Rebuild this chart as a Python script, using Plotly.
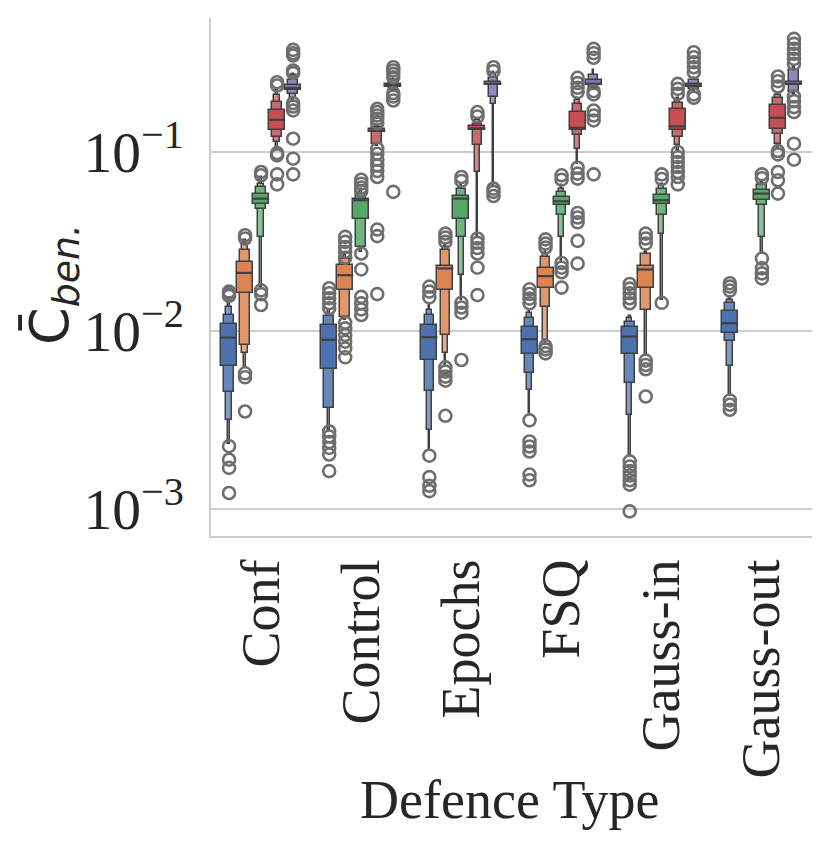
import plotly.graph_objects as go

# categories / hue levels
defences = ["Conf", "Control", "Epochs", "FSQ", "Gauss-in", "Gauss-out"]
hue_colors = ["#4C72B0", "#DD8452", "#55A868", "#C44E52", "#8172B3"]

# letter values, [hue][defence]
median = [
    [0.00914, 0.00887, 0.00918, 0.00895, 0.00925, 0.01099],
    [0.02104, 0.02042, 0.02228, 0.02018, 0.02198, None],
    [0.0548, 0.0537, 0.0548, 0.0530, 0.0537, 0.0585],
    [0.1517, 0.1316, 0.1356, 0.1368, 0.1393, 0.1556],
    [0.2280, 0.2371, 0.2410, 0.2410, 0.2360, 0.2410],
]
iqr = [
    [(0.00637, 0.01089), (0.00608, 0.01076), (0.00686, 0.01076), (0.00741, 0.01044), (0.00741, 0.01044), (0.00966, 0.01294)],
    [(0.01614, 0.02427), (0.01698, 0.02323), (0.01683, 0.02296), (0.01722, 0.02228), (0.01722, 0.02296), None],
    [(0.0514, 0.0580), (0.0419, 0.0548), (0.0419, 0.0565), (0.0504, 0.0560), (0.0509, 0.0573), (0.0537, 0.0615)],
    [(0.1321, 0.1726), (0.1288, 0.1345), (0.1321, 0.1393), (0.1321, 0.1675), (0.1321, 0.1746), (0.1349, 0.1824)],
    [(0.2213, 0.2360), (0.2328, 0.2410), (0.2360, 0.2466), (0.2360, 0.2518), (0.2312, 0.2410), (0.2360, 0.2483)],
]
level2 = [
    [(0.00450, 0.01224), (0.00368, 0.01208), (0.00456, 0.01224), (0.00577, 0.01172), (0.00507, 0.01122), (0.00879, 0.01422)],
    [(0.00829, 0.02818), (0.01194, 0.02532), (0.00944, 0.02818), (0.01359, 0.02588), (0.01301, 0.02679), None],
    [(0.0482, 0.0637), (0.0294, 0.0585), (0.0335, 0.0624), (0.0443, 0.0598), (0.0443, 0.0624), (0.0504, 0.0652)],
    [(0.1213, 0.1905), (0.1114, 0.1380), (0.1089, 0.1439), (0.1239, 0.1862), (0.1213, 0.1879), (0.1256, 0.2014)],
    [(0.2103, 0.2518), (0.2234, 0.2518), (0.2047, 0.2606), (0.2280, 0.2685), (0.2259, 0.2518), (0.2168, 0.2864)],
]
level3 = [
    [(0.00316, 0.01362), None, (0.00278, 0.01306), (0.00466, 0.01250), (0.00337, 0.01172), (0.00629, 0.01486)],
    [(0.00745, 0.0307), None, (0.00745, 0.0294), (0.00885, 0.02700), None, None],
    [(0.0335, 0.0665), None, (0.0204, 0.0637), (0.0335, 0.0624), (0.0349, 0.0643), (0.0335, 0.0665)],
    [(0.1137, 0.2075), None, (0.0773, 0.1503), (0.1044, 0.1945), (0.1089, 0.1945), (0.1114, 0.2075)],
    [(0.2014, 0.2685), None, (0.1862, 0.2742), None, None, None],
]
tail = [
    [(0.00230, 0.01517), (0.00278, 0.01306), (0.00215, 0.01393), (0.00345, 0.01306), (0.00197, 0.01208), (0.00428, 0.01535)],
    [(0.00614, 0.0321), (0.01145, 0.02643), (0.00641, 0.0301), (0.00829, 0.02760), (0.00729, 0.02760), None],
    [(0.0176, 0.0725), (0.0276, 0.0624), (0.0148, 0.0652), (0.0246, 0.0652), (0.0148, 0.0665), (0.0270, 0.0679)],
    [(0.1021, 0.2213), (0.1076, 0.1409), (0.0335, 0.1535), (0.0861, 0.2014), (0.1030, 0.2014), (0.1044, 0.2138)],
    [(0.1905, 0.2742), (0.2168, 0.2582), (0.0637, 0.2799), (0.2234, 0.2864), (0.2193, 0.2606), (0.2103, 0.2985)],
]
outliers = [
    [
        [0.01652, 0.01603, 0.01563, 0.00225, 0.00189, 0.00170, 0.00123],
        [0.01725, 0.01618, 0.01517, 0.01422, 0.01333, 0.00272, 0.00255, 0.00237, 0.00220, 0.00202, 0.00163],
        [0.01762, 0.01652, 0.01535, 0.00199, 0.00151, 0.00135, 0.00126],
        [0.01702, 0.01603, 0.01510, 0.01422, 0.00314, 0.00239, 0.00224, 0.00210, 0.00156, 0.00145],
        [0.01824, 0.01718, 0.01618, 0.01517, 0.01422, 0.00185, 0.00173, 0.00163, 0.00154, 0.00145, 0.00137, 0.00097],
        [0.01841, 0.01762, 0.01675, 0.00406, 0.00384, 0.00360],
    ],
    [
        [0.0342, 0.0328, 0.00576, 0.00547, 0.00352],
        [0.0335, 0.0314, 0.0294, 0.0276, 0.0256, 0.01106, 0.01028, 0.00944, 0.00866, 0.00794, 0.00708],
        [0.0349, 0.0332, 0.0314, 0.00622, 0.00589, 0.00552, 0.00524, 0.00333],
        [0.0324, 0.0307, 0.0292, 0.00818, 0.00784, 0.00745],
        [0.0349, 0.0328, 0.0307, 0.00678, 0.00641, 0.00607, 0.00427],
        [],
    ],
    [
        [0.0773, 0.0741, 0.0168, 0.0160, 0.0139],
        [0.0700, 0.0665, 0.0632, 0.0605, 0.0270, 0.0220, 0.01545, 0.01419, 0.01313, 0.01222],
        [0.0725, 0.0689, 0.01430, 0.01346, 0.01259, 0.00684],
        [0.0741, 0.0700, 0.0239, 0.0225, 0.0212, 0.0174],
        [0.0750, 0.0706, 0.0143],
        [0.0750, 0.0713, 0.0253, 0.0223, 0.0209, 0.0196],
    ],
    [
        [0.2462, 0.2360, 0.0987, 0.0958, 0.0750, 0.0659],
        [0.1746, 0.1675, 0.1603, 0.1535, 0.1452, 0.1044, 0.0979, 0.0906, 0.0842, 0.0783, 0.0725, 0.0368, 0.0338, 0.0160],
        [0.1675, 0.1582, 0.0328, 0.0310, 0.0290, 0.0270, 0.0225, 0.0158],
        [0.2606, 0.2432, 0.2291, 0.2168, 0.0817, 0.0757, 0.0710, 0.0456, 0.0430, 0.0404, 0.0318, 0.0237],
        [0.2410, 0.2259, 0.2118, 0.1000, 0.0937, 0.0879, 0.0824, 0.0773, 0.0725, 0.0659],
        [0.2649, 0.2495, 0.2328, 0.1013, 0.0970, 0.0773, 0.0695, 0.0585],
    ],
    [
        [0.3735, 0.3580, 0.3475, 0.2864, 0.2767, 0.1880, 0.1800, 0.1710, 0.1188, 0.0918, 0.0750],
        [0.2985, 0.2864, 0.2742, 0.2624, 0.2138, 0.2047, 0.1945, 0.0598],
        [0.2985, 0.2838, 0.0624, 0.0598, 0.0567],
        [0.3784, 0.3580, 0.3373, 0.2193, 0.2103, 0.1710, 0.1603, 0.1503, 0.0750],
        [0.3622, 0.3396, 0.3184, 0.2985, 0.2799, 0.2103, 0.2014],
        [0.4305, 0.4036, 0.3784, 0.3548, 0.3327, 0.3119, 0.2047, 0.1928, 0.1786, 0.1675, 0.1114, 0.0906],
    ],
]

SLOT = 0.16
EDGE = "#404040"
SERIF = "Liberation Serif"

# page has an 8px body margin, plot area sits at x 211-812, y 18-536 of the page
PAGE_OFF = 8
PLOT_L, PLOT_R, PLOT_T, PLOT_B = 211, 812, 18, 536


def lighten(hex_color, amount):
    r, g, b = (int(hex_color[i:i + 2], 16) for i in (1, 3, 5))
    mix = lambda c: int(round(c + (255 - c) * amount))
    return "#{:02x}{:02x}{:02x}".format(mix(r), mix(g), mix(b))


def xpos(h, i):
    return i + (h - 2) * SLOT


def paper_x(px):
    return (px - PLOT_L) / (PLOT_R - PLOT_L)


def paper_y(py):
    return (PLOT_B - py) / (PLOT_B - PLOT_T)


fig = go.Figure()

# outermost level first so wider inner boxes sit on top
levels = [(tail, 0.10, 0.45), (level3, 0.33, 0.3), (level2, 0.6, 0.15), (iqr, 1.0, 0.0)]
for stats, frac, light in levels:
    for h, color in enumerate(hue_colors):
        xs, base, size = [], [], []
        for i in range(len(defences)):
            pair = stats[h][i]
            if pair is None:
                continue
            xs.append(xpos(h, i))
            base.append(pair[0])
            size.append(pair[1] - pair[0])
        fig.add_trace(go.Bar(
            x=xs, y=size, base=base, width=SLOT * frac,
            marker=dict(color=lighten(color, light), line=dict(color=EDGE, width=1.5)),
            hoverinfo="skip", showlegend=False,
        ))

# median lines
for h in range(len(hue_colors)):
    mx, my = [], []
    for i in range(len(defences)):
        m = median[h][i]
        if m is None:
            continue
        c = xpos(h, i)
        mx += [c - SLOT / 2, c + SLOT / 2, None]
        my += [m, m, None]
    fig.add_trace(go.Scatter(x=mx, y=my, mode="lines", line=dict(color=EDGE, width=2.2),
                             hoverinfo="skip", showlegend=False))

# outliers
for h in range(len(hue_colors)):
    ox, oy = [], []
    for i in range(len(defences)):
        for v in outliers[h][i]:
            ox.append(xpos(h, i))
            oy.append(v)
    fig.add_trace(go.Scatter(
        x=ox, y=oy, mode="markers",
        marker=dict(symbol="circle-open", size=12, color="#6e6e6e", line=dict(width=2.6, color="#6e6e6e")),
        hoverinfo="skip", showlegend=False,
    ))

W, H = 831, 848
fig.update_layout(
    width=W, height=H,
    margin=dict(l=PLOT_L - PAGE_OFF, r=W - (PLOT_R - PAGE_OFF), t=PLOT_T - PAGE_OFF, b=H - (PLOT_B - PAGE_OFF)),
    plot_bgcolor="white", paper_bgcolor="white",
    barmode="overlay", bargap=0,
    font=dict(family=SERIF, size=54, color="#262626"),
)
fig.update_xaxes(
    range=[-0.5, 5.5], tickmode="array", tickvals=list(range(len(defences))), ticktext=defences,
    tickangle=-90, showgrid=False, zeroline=False, showline=True, linecolor="#cccccc", linewidth=2,
    ticks="", ticklabelstandoff=0,
)
fig.update_yaxes(
    type="log", range=[-3.151, -0.249], dtick=1, exponentformat="power",
    showgrid=True, gridcolor="#cccccc", gridwidth=1.6, zeroline=False,
    showline=True, linecolor="#cccccc", linewidth=2, ticks="", ticklabelstandoff=16,
    tickfont=dict(family=SERIF, size=46),
)
fig.add_annotation(
    text="Defence Type", xref="paper", yref="paper", x=paper_x(510), y=paper_y(800),
    xanchor="center", yanchor="middle", showarrow=False, font=dict(family=SERIF, size=54),
)
fig.add_annotation(
    text="C\u0304<sub><i>ben.</i></sub>", xref="paper", yref="paper",
    x=paper_x(53), y=paper_y(285), xanchor="center", yanchor="middle",
    textangle=-90, showarrow=False, font=dict(family="DejaVu Sans", size=54, color="#262626"),
)

fig.write_html("out.html")
